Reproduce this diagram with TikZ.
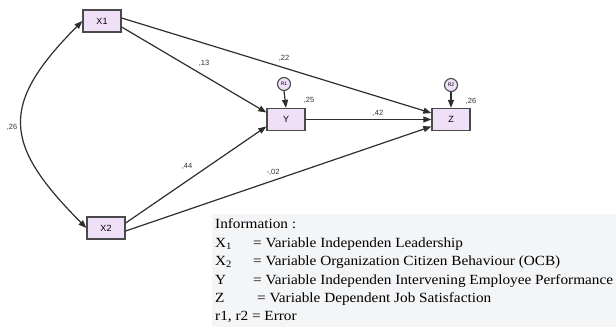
\documentclass[tikz,border=0pt]{standalone}
\usepackage{fontspec}
\setmainfont{Liberation Serif}
\newfontfamily\nodefont{Liberation Sans}
\newfontfamily\legendfont[FakeStretch=1.09]{Liberation Serif}
\usetikzlibrary{arrows.meta}
\definecolor{boxfill}{HTML}{EFE0F7}
\definecolor{boxline}{HTML}{4A4A4A}
\definecolor{arrline}{HTML}{2E2E2E}
\definecolor{legendbg}{HTML}{F4F5F7}
\tikzset{
  var/.style={draw=boxline, fill=boxfill, line width=1.3pt, minimum width=38pt, minimum height=22pt, inner sep=0pt, font=\nodefont\fontsize{9}{10}\selectfont},
  err/.style={circle, draw=boxline, fill=boxfill, line width=1.1pt, minimum size=13pt, inner sep=0pt, font=\nodefont\fontsize{5}{6}\selectfont},
  arr/.style={draw=arrline, line width=1.2pt, -{Triangle[length=8pt,width=6pt]}},
  darr/.style={draw=arrline, line width=1.2pt, {Triangle[length=8pt,width=6pt]}-{Triangle[length=8pt,width=6pt]}},
  coef/.style={font=\nodefont\fontsize{7.5}{8}\selectfont, text=black!80, inner sep=0pt},
  legend/.style={anchor=base west, inner sep=0pt, font=\legendfont\fontsize{14}{16}\selectfont}
}
\begin{document}
\begin{tikzpicture}[x=1pt,y=-1pt]
\useasboundingbox (0,0) rectangle (616,327);
\fill[legendbg] (212,214) rectangle (616,327);

% variables
\node[var] (X1) at (102,21) {X1};
\node[var] (X2) at (106,228) {X2};
\node[var] (Y) at (286,119.5) {Y};
\node[var] (Z) at (451,119.5) {Z};
\node[err] (R1) at (284,84) {R1};
\node[err] (R2) at (451,85) {R2};

% connectors
\draw[darr] (X1.west) .. controls (-1,105) and (3,144) .. (X2.west);
\draw[arr] ([yshift=-6pt]X1.east) -- ([yshift=7pt]Y.west);
\draw[arr] ([yshift=3pt]X1.east) -- ([yshift=6.5pt]Z.west);
\draw[arr] ([yshift=5pt]X2.east) -- ([yshift=-7pt]Y.west);
\draw[arr] ([yshift=-3pt]X2.east) -- ([yshift=-7pt]Z.west);
\draw[arr] (Y.east) -- (Z.west);
\draw[arr] (R1.south) -- (Y.north);
\draw[arr] (R2.south) -- (Z.north);

% coefficients
\node[coef] (c26a) at (12,127) {,26};
\node[coef] (c13) at (204,63) {,13};
\node[coef] (c22) at (284,58) {,22};
\node[coef] (c44) at (187,166) {,44};
\node[coef] (c02) at (273,172) {-,02};
\node[coef] (c42) at (378,113) {,42};
\node[coef] (c25) at (309,100) {,25};
\node[coef] (c26b) at (471,101) {,26};

% legend
\node[legend] (Linfo) at (215,228) {Information :};
\node[legend] (Lx1) at (215,247) {X\textsubscript{1}};
\node[legend] (Lx1t) at (253,247) {= Variable Independen Leadership};
\node[legend] (Lx2) at (215,265) {X\textsubscript{2}};
\node[legend] (Lx2t) at (253,265) {= Variable Organization Citizen Behaviour (OCB)};
\node[legend] (Ly) at (215,284) {Y};
\node[legend] (Lyt) at (253,284) {= Variable Independen Intervening Employee Performance};
\node[legend] (Lz) at (215,302) {Z};
\node[legend] (Lzt) at (257,302) {= Variable Dependent Job Satisfaction};
\node[legend] (Lr) at (215,320) {r1, r2 = Error};
\end{tikzpicture}
\end{document}
